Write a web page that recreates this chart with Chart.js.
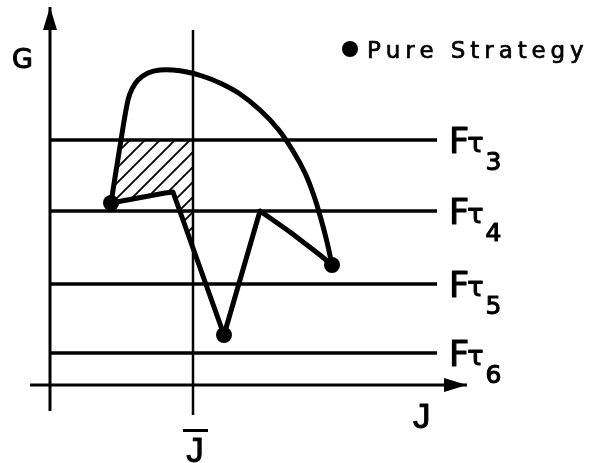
<!DOCTYPE html>
<html>
<head>
<meta charset="utf-8">
<script src="https://cdn.jsdelivr.net/npm/chart.js@4.4.1/dist/chart.umd.min.js"></script>
<style>
  html, body { margin: 0; padding: 0; background: #fff; }
  #wrap { width: 591px; height: 463px; }
</style>
</head>
<body>
<div id="wrap"><canvas id="frontier"></canvas></div>
<script>
// F-tau payoff levels (G units)
const tauLabels = ['3', '4', '5', '6'];
const tauLevels = [24.5, 17.4, 10.1, 3.2];
const tauLineEnd = 38.7;

// J-bar position and its vertical extent
const jBar = 14.3;
const jBarRange = [35.5, -3.0];

// axes: [start, arrow tip]
const jAxisRange = [-2.0, 41.7];
const gAxisRange = [-2.6, 37.8];

// pure strategies
const pureJ = [6.1, 28.2, 17.4];
const pureG = [18.2, 12.0, 5.0];

// upper frontier, left pure strategy over the top to the right one
const upperJ = [6.1, 7.1, 7.8, 8.2, 8.8, 9.8, 11.0, 12.3, 13.7, 15.2, 17.0, 19.0, 21.0, 22.8, 24.3, 25.5, 26.4, 27.1, 27.7, 28.2];
const upperG = [18.2, 24.5, 28.5, 29.6, 30.5, 31.2, 31.5, 31.5, 31.3, 30.9, 30.2, 29.1, 27.5, 25.6, 23.4, 21.2, 18.9, 16.6, 14.3, 12.0];

// lower zig-zag path
const lowerJ = [6.1, 11.5, 12.3, 17.4, 21.0, 22.3, 24.0, 25.7, 27.0, 28.2];
const lowerG = [18.2, 19.2, 19.3, 5.0, 17.4, 16.5, 15.3, 14.0, 13.0, 12.0];

// hatched region left of J-bar and under F-tau 3
const hatchJ = [7.1, 14.3, 14.3, 12.3, 11.5, 6.1, 7.1];
const hatchG = [24.5, 24.5, 13.7, 19.3, 19.2, 18.2, 24.5];

const pts = (xs, ys) => xs.map((x, i) => ({ x: x, y: ys[i] }));

const canvas = document.getElementById('frontier');
const ctx = canvas.getContext('2d');

function hatchPattern(step) {
    const c = document.createElement('canvas');
    c.width = c.height = step;
    const g = c.getContext('2d');
    g.strokeStyle = '#000';
    g.lineWidth = 1.8;
    g.beginPath();
    g.moveTo(-2, step + 2); g.lineTo(step + 2, -2);
    g.moveTo(-2, 2); g.lineTo(2, -2);
    g.moveTo(step - 2, step + 2); g.lineTo(step + 2, step - 2);
    g.stroke();
    return ctx.createPattern(c, 'repeat');
}

function plain(data, width) {
    return {
        data: data,
        borderColor: '#000',
        borderWidth: width,
        pointRadius: 0,
        tension: 0,
        fill: false
    };
}

// datasets listed top-most first
const datasets = [];
datasets.push({
    label: 'Pure Strategy',
    data: pts(pureJ, pureG),
    showLine: false,
    pointRadius: 8,
    pointBackgroundColor: '#000',
    pointBorderWidth: 0
});
datasets.push(Object.assign(plain(pts(upperJ, upperG), 5), { tension: 0.4, borderJoinStyle: 'round' }));
datasets.push(Object.assign(plain(pts(lowerJ, lowerG), 5), { borderJoinStyle: 'round' }));
datasets.push({
    data: pts(hatchJ, hatchG),
    borderWidth: 0,
    borderColor: 'rgba(0,0,0,0)',
    pointRadius: 0,
    fill: 'shape',
    backgroundColor: hatchPattern(15)
});
datasets.push(plain([{ x: jBar, y: jBarRange[0] }, { x: jBar, y: jBarRange[1] }], 2.5));
tauLevels.forEach((lv, i) => {
    const ds = plain([{ x: 0, y: lv }, { x: tauLineEnd, y: lv }], 3.5);
    ds.tau = tauLabels[i];
    datasets.push(ds);
});
datasets.push(Object.assign(plain([{ x: 0, y: gAxisRange[0] }, { x: 0, y: gAxisRange[1] }], 3), { arrow: true }));
datasets.push(Object.assign(plain([{ x: jAxisRange[0], y: 0 }, { x: jAxisRange[1], y: 0 }], 3), { arrow: true }));

// fill plus a thin outline, for a medium-weight look
function heavy(c, str, x, y) {
    c.fillText(str, x, y);
    c.strokeText(str, x, y);
}

function spaced(c, str, x, y, sp) {
    for (const ch of str) {
        heavy(c, ch, x, y);
        x += c.measureText(ch).width + sp;
    }
}

const sketchLabels = {
    id: 'sketchLabels',
    afterDatasetsDraw(chart) {
        const c = chart.ctx;
        const xs = chart.scales.x, ys = chart.scales.y;
        c.save();
        c.fillStyle = '#000';
        c.strokeStyle = '#000';
        c.lineJoin = 'round';
        c.textBaseline = 'alphabetic';

        chart.data.datasets.forEach((ds, i) => {
            const pts = chart.getDatasetMeta(i).data;
            const last = pts[pts.length - 1];
            if (ds.arrow) {
                const prev = pts[pts.length - 2];
                const a = Math.atan2(last.y - prev.y, last.x - prev.x);
                const len = 23, hw = 7;
                c.beginPath();
                c.moveTo(last.x, last.y);
                c.lineTo(last.x - len * Math.cos(a) - hw * Math.sin(a), last.y - len * Math.sin(a) + hw * Math.cos(a));
                c.lineTo(last.x - len * Math.cos(a) + hw * Math.sin(a), last.y - len * Math.sin(a) - hw * Math.cos(a));
                c.closePath();
                c.fill();
            }
            if (ds.tau) {
                let x = last.x + 12;
                const y = last.y;
                c.lineWidth = 1.1;
                c.font = '35px "DejaVu Sans"';
                heavy(c, 'F', x, y + 13);
                x += c.measureText('F').width - 2;
                c.font = '27px "DejaVu Sans"';
                heavy(c, 'τ', x, y + 12);
                x += c.measureText('τ').width + 2;
                c.font = '25px "DejaVu Sans"';
                heavy(c, ds.tau, x, y + 30);
            }
        });

        // axis names
        c.lineWidth = 1;
        c.font = '27px "DejaVu Sans"';
        heavy(c, 'G', xs.getPixelForValue(-3.8), ys.getPixelForValue(31.7));
        c.font = '35px "Liberation Sans"';
        heavy(c, 'J', xs.getPixelForValue(36.3), ys.getPixelForValue(-4.3));
        c.textAlign = 'center';
        const bx = xs.getPixelForValue(jBar) + 2;
        const by = ys.getPixelForValue(-7.7);
        heavy(c, 'J', bx, by);
        c.fillRect(bx - 12, by - 33, 25, 3);

        // legend
        const pure = chart.data.datasets[0];
        c.textAlign = 'left';
        c.beginPath();
        c.arc(350, 49, pure.pointRadius, 0, Math.PI * 2);
        c.fill();
        c.lineWidth = 0.7;
        c.font = '23px "DejaVu Sans"';
        spaced(c, pure.label, 367, 58, 4.9);
        c.restore();
    }
};

new Chart(ctx, {
    type: 'line',
    data: { datasets: datasets },
    options: {
        responsive: true,
        maintainAspectRatio: false,
        animation: false,
        events: [],
        layout: { padding: 0, autoPadding: false },
        plugins: {
            legend: { display: false },
            tooltip: { enabled: false }
        },
        scales: {
            x: { type: 'linear', display: false, min: -5.0, max: 54.1 },
            y: { type: 'linear', display: false, min: -7.8, max: 38.5 }
        }
    },
    plugins: [sketchLabels]
});
</script>
</body>
</html>
